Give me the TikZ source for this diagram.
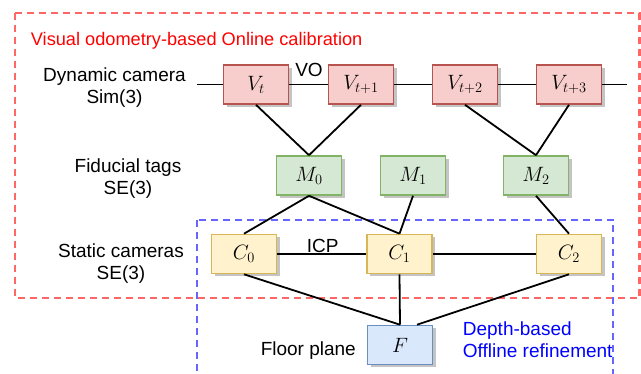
\documentclass[tikz,border=0pt]{standalone}
\usepackage{fontspec}
\setmainfont{Liberation Sans}

\definecolor{vfill}{HTML}{F8CECC}\definecolor{vline}{HTML}{B85450}
\definecolor{mfill}{HTML}{D5E8D4}\definecolor{mline}{HTML}{82B366}
\definecolor{cfill}{HTML}{FFF2CC}\definecolor{cline}{HTML}{D6B656}
\definecolor{ffill}{HTML}{DAE8FC}\definecolor{fline}{HTML}{6C8EBF}
\definecolor{onlinebox}{HTML}{FF6666}
\definecolor{offlinebox}{HTML}{6666FF}
\definecolor{shadowgray}{HTML}{C4C4C4}

\tikzset{
  varbox/.style={draw, line width=1.6pt, minimum width=65pt, minimum height=39pt,
    inner sep=0pt, font=\fontsize{20}{24}\selectfont},
  vnode/.style={varbox, fill=vfill, draw=vline},
  mnode/.style={varbox, fill=mfill, draw=mline},
  cnode/.style={varbox, fill=cfill, draw=cline},
  fnode/.style={varbox, fill=ffill, draw=fline},
  edge/.style={line width=1.8pt, black},
  lab/.style={font=\fontsize{19}{22}\selectfont, inner sep=0pt},
  regionbox/.style={line width=2.2pt, dash pattern=on 7pt off 5pt},
  boxshadow/.style={fill=shadowgray},
}

% a variable box with its drop shadow: #1 style, #2 name, #3 centre, #4 label
\newcommand\varnode[4]{%
  \fill[boxshadow] (#3) ++(-29.5,-16.5) rectangle ++(65,39);
  \node[#1] (#2) at (#3) {#4};}

\begin{document}
\begin{tikzpicture}[x=1pt, y=-1pt]
\clip (0,0) rectangle (641,374);
\fill[white] (0,0) rectangle (641,374);

% calibration regions
\draw[regionbox, onlinebox] (14.7,13.3) rectangle (639.5,298.3);
\draw[regionbox, offlinebox] (197,220) rectangle (613.3,390);
\node[lab, font=\fontsize{18.2}{22}\selectfont, text=red, anchor=base west] (online) at (30.7,45.7) {Visual odometry-based Online calibration};
% multi-line labels are anchored at the baseline of their last line
\node[lab, text=blue, anchor=base west, align=left] (offline) at (462.7,357.7) {Depth-based\\Offline refinement};

% row labels
\node[lab, anchor=base, align=center] (dynlab) at (114.5,104) {Dynamic camera\\Sim(3)};
\node[lab, anchor=base, align=center] (taglab) at (128,194.3) {Fiducial tags\\SE(3)};
\node[lab, anchor=base, align=center] (camlab) at (121,280) {Static cameras\\SE(3)};
\node[lab, anchor=base] (floorlab) at (308.3,356) {Floor plane};

% variables
\varnode{vnode}{Vt}{256,84.5}{$V_t$}
\varnode{vnode}{Vt1}{361,84.5}{$V_{t+1}$}
\varnode{vnode}{Vt2}{465,84.5}{$V_{t+2}$}
\varnode{vnode}{Vt3}{569,84.5}{$V_{t+3}$}
\varnode{mnode}{M0}{309,175.5}{$M_0$}
\varnode{mnode}{M1}{413,175.5}{$M_1$}
\varnode{mnode}{M2}{536,175.5}{$M_2$}
\varnode{cnode}{C0}{244,254}{$C_0$}
\varnode{cnode}{C1}{399.5,254}{$C_1$}
\varnode{cnode}{C2}{569,254}{$C_2$}
\varnode{fnode}{F}{400,345}{$F$}

\coordinate (vleft) at (197,84.5);
\coordinate (vright) at (627,84.5);

% odometry chain
\draw[edge] (vleft) -- (Vt.west);
\draw[edge] (Vt.east) -- (Vt1.west);
\draw[edge] (Vt1.east) -- (Vt2.west);
\draw[edge] (Vt2.east) -- (Vt3.west);
\draw[edge] (Vt3.east) -- (vright);
\node[lab] (vo) at (309,69.7) {VO};

% tag observations
\draw[edge] (Vt.south) -- (M0.north);
\draw[edge] (Vt1.south) -- (M0.north);
\draw[edge] (Vt2.south) -- (M2.north);
\draw[edge] (Vt3.south) -- (M2.north);
\draw[edge] (M0.south) -- (C0.north);
\draw[edge] (M0.south) -- (C1.north);
\draw[edge] (M1.south) -- (C1.north);
\draw[edge] (M2.south) -- (C2.north);

% depth constraints
\draw[edge] (C0.east) -- (C1.west);
\draw[edge] (C1.east) -- (C2.west);
\node[lab] (icp) at (322.7,246) {ICP};
\draw[edge] (C0.south) -- (F.north);
\draw[edge] (C1.south) -- (F.north);
\draw[edge] (C2.south) -- ([xshift=17pt]F.north);
\end{tikzpicture}
\end{document}
